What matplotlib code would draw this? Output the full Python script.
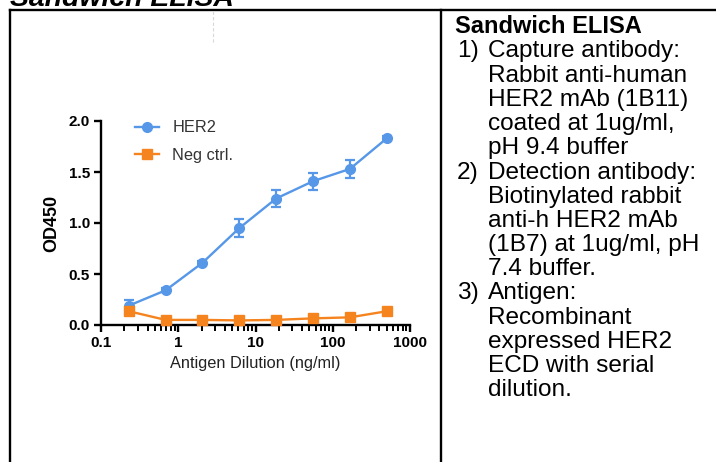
import matplotlib
matplotlib.use("Agg")
import matplotlib.pyplot as plt
from matplotlib.lines import Line2D
from matplotlib.ticker import FixedLocator, NullFormatter

plt.rcParams['font.family'] = ['Liberation Sans', 'DejaVu Sans']

# ---- data ----
conc = [0.229, 0.686, 2.06, 6.17, 18.5, 55.6, 166.7, 500]
her2 = [0.19, 0.34, 0.61, 0.95, 1.24, 1.41, 1.53, 1.83]
her2_err = [0.06, 0.02, 0.02, 0.09, 0.08, 0.085, 0.09, 0.02]
neg = [0.135, 0.05, 0.05, 0.045, 0.05, 0.065, 0.075, 0.135]
neg_err = [0.02, 0.015, 0.01, 0.01, 0.01, 0.01, 0.01, 0.015]
series_names = ["HER2", "Neg ctrl."]
x_ticks = [0.1, 1, 10, 100, 1000]
x_ticklabels = ["0.1", "1", "10", "100", "1000"]
y_ticks = [0.0, 0.5, 1.0, 1.5, 2.0]
y_ticklabels = ["0.0", "0.5", "1.0", "1.5", "2.0"]
title = "Sandwich ELISA"
side_heading = "Sandwich ELISA"
side_lines = [
    ("1)", "Capture antibody:"),
    ("", "Rabbit anti-human"),
    ("", "HER2 mAb (1B11)"),
    ("", "coated at 1ug/ml,"),
    ("", "pH 9.4 buffer"),
    ("2)", "Detection antibody:"),
    ("", "Biotinylated rabbit"),
    ("", "anti-h HER2 mAb"),
    ("", "(1B7) at 1ug/ml, pH"),
    ("", "7.4 buffer."),
    ("3)", "Antigen:"),
    ("", "Recombinant"),
    ("", "expressed HER2"),
    ("", "ECD with serial"),
    ("", "dilution."),
]

W, H = 716, 462
fig = plt.figure(figsize=(W / 100, H / 100), dpi=100)

def fx(px):
    return px / W

def fy(py):
    return 1 - py / H

# ---- table frame ----
lw_frame = 1.7
fig.add_artist(Line2D([fx(10), fx(716)], [fy(10), fy(10)], color='black', lw=lw_frame))
fig.add_artist(Line2D([fx(10), fx(10)], [fy(10), fy(462)], color='black', lw=lw_frame))
fig.add_artist(Line2D([fx(441), fx(441)], [fy(10), fy(462)], color='black', lw=lw_frame))
fig.add_artist(Line2D([fx(213), fx(213)], [fy(11), fy(42)], color='#d8d8d8', lw=0.8,
                      linestyle=(0, (3, 2))))

# ---- top title (cut off) ----
fig.text(fx(10), fy(6), title, fontsize=20.4, fontweight='bold', fontstyle='italic',
         ha='left', va='baseline')

# ---- chart ----
ax = fig.add_axes([fx(101), fy(325), fx(410) - fx(101), (325 - 121) / H])
blue = '#5697E8'
orange = '#F5841F'
colors = [blue, orange]
markers = ['o', 's']
for vals, errs, c, m, name in zip([her2, neg], [her2_err, neg_err], colors, markers,
                                  series_names):
    ax.errorbar(conc, vals, yerr=errs, color=c, fmt='none', capsize=3.5,
                elinewidth=1.6, capthick=1.6, clip_on=False, zorder=3)
    ax.plot(conc, vals, color=c, marker=m, markersize=7,
            lw=1.7, label=name, clip_on=False, zorder=4)
ax.set_xscale('log')
ax.set_xlim(0.1, 1000)
ax.set_ylim(0, 2.0)
ax.xaxis.set_major_locator(FixedLocator(x_ticks))
ax.set_xticklabels(x_ticklabels)
minor = [m * 10 ** e for e in range(-1, 3) for m in range(2, 10)]
ax.xaxis.set_minor_locator(FixedLocator(minor))
ax.xaxis.set_minor_formatter(NullFormatter())
ax.set_yticks(y_ticks)
ax.set_yticklabels(y_ticklabels)
for s in ['top', 'right']:
    ax.spines[s].set_visible(False)
for s in ['left', 'bottom']:
    ax.spines[s].set_linewidth(1.7)
ax.tick_params(axis='both', which='major', direction='out', length=5, width=1.7,
               labelsize=11, pad=3)
ax.tick_params(axis='x', which='minor', direction='out', length=4, width=1.4)
for lab in ax.get_xticklabels() + ax.get_yticklabels():
    lab.set_fontweight('bold')
ax.set_ylabel("OD450", fontsize=13, fontweight='bold', labelpad=6)
ax.set_xlabel("Antigen Dilution (ng/ml)", fontsize=11.8, labelpad=4, color='#222222')
ax.patch.set_alpha(0)

leg = ax.legend(loc='upper left', bbox_to_anchor=(27 / 309, 1.035),
                frameon=False, fontsize=11.8, handlelength=1.5, handletextpad=0.8,
                labelspacing=0.75, borderaxespad=0)
for t in leg.get_texts():
    t.set_color('#333333')

# ---- side text ----
fs_head = 17.0
fs_side = 17.6
base0 = 33.3
pitch = 24.2
fig.text(fx(455), fy(base0), side_heading, fontsize=fs_head, fontweight='bold',
         ha='left', va='baseline')
for i, (num, txt) in enumerate(side_lines):
    yb = fy(base0 + pitch * (i + 1))
    if num:
        fig.text(fx(457), yb, num, fontsize=fs_side, ha='left', va='baseline')
    fig.text(fx(488), yb, txt, fontsize=fs_side, ha='left', va='baseline')

fig.savefig("out.png", dpi=100)
